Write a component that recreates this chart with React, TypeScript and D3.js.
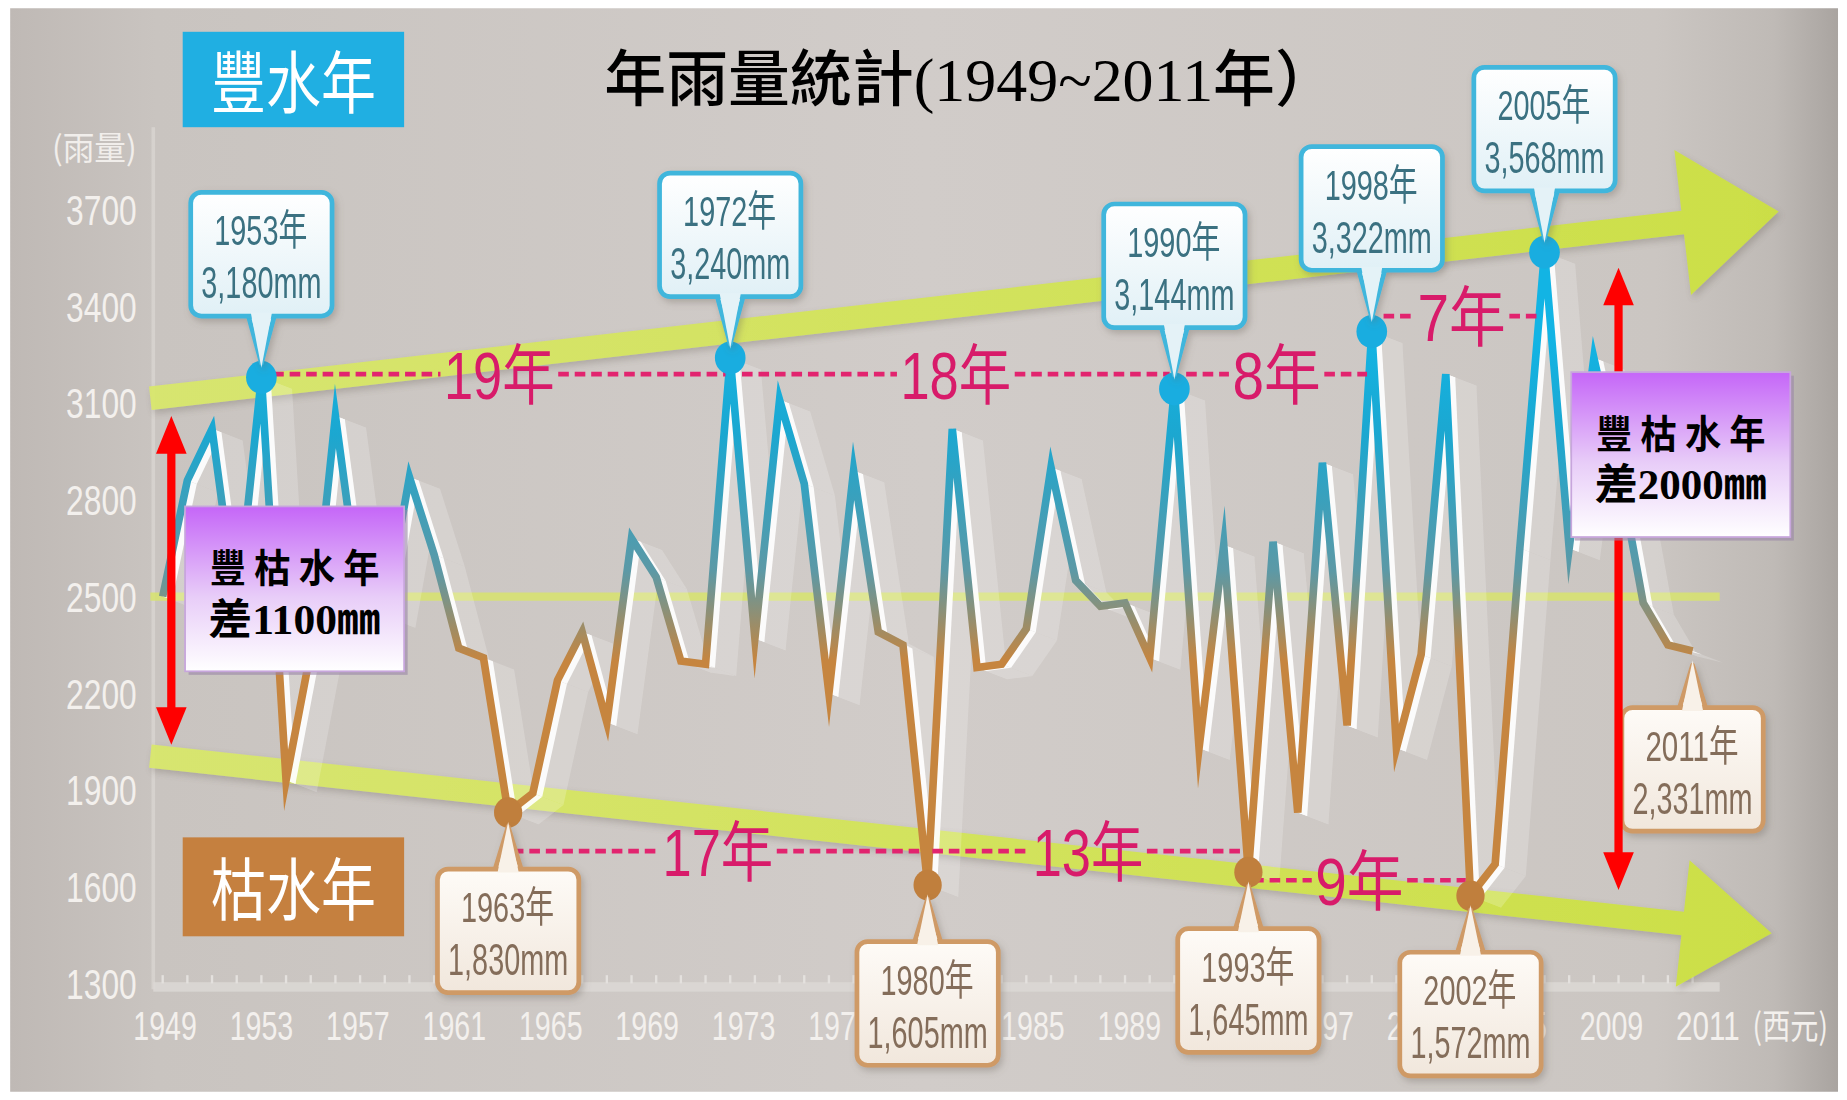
import * as d3 from "d3";

// annual rainfall, 1949..2011 (mm)
const START_YEAR = 1949;
const rainfall = [
  2500, 2860, 3020, 2450, 3180, 1930, 2330, 3060, 2490, 2440,
  2870, 2630, 2340, 2310, 1830, 1890, 2240, 2390, 2110, 2680,
  2560, 2300, 2290, 3240, 2370, 3110, 2850, 2200, 2890, 2390,
  2350, 1605, 3020, 2280, 2290, 2400, 2900, 2550, 2470, 2480,
  2310, 3144, 2030, 2660, 1645, 2670, 1830, 2915, 2100, 3322,
  2030, 2320, 3190, 1572, 1670, 2650, 3568, 2650, 3240, 2900,
  2480, 2350, 2331,
];
const years = rainfall.map((_, i) => START_YEAR + i);

const wetYears = [1953, 1972, 1990, 1998, 2005];
const dryYears = [1963, 1980, 1993, 2002];
const lastYear = 2011;

const yTicks = [3700, 3400, 3100, 2800, 2500, 2200, 1900, 1600, 1300];
const xTickLabels = ["1949", "1953", "1957", "1961", "1965", "1969", "1973", "1977", "1981",
  "1985", "1989", "1993", "1997", "2001", "2005", "2009", "2011"];

const wetGaps = [
  { from: 1953, to: 1972, label: "19", level: 3190 },
  { from: 1972, to: 1990, label: "18", level: 3190 },
  { from: 1990, to: 1998, label: "8", level: 3190 },
  { from: 1998, to: 2005, label: "7", level: 3370 },
];
const dryGaps = [
  { from: 1963, to: 1980, label: "17", level: 1710 },
  { from: 1980, to: 1993, label: "13", level: 1710 },
  { from: 1993, to: 2002, label: "9", level: 1620 },
];

// trend arrows: [year, mm] start and end of the shaft
const trendUp = [[1948.5, 3115], [2010.6, 3660]];
const trendDown = [[1948.5, 2005], [2010.6, 1486]];

const spanLeft = { year: 1949.35, lo: 2040, hi: 3060, text: "差1100㎜" };
const spanRight = { year: 2008.0, lo: 1590, hi: 3520, text: "差2000㎜" };

const W = 1568;
const H = 934;
const NUM_FONT = "'Liberation Sans Narrow','Liberation Sans','Noto Sans CJK TC',sans-serif";
const CJK_FONT = "'Noto Sans CJK TC','Noto Sans CJK SC',sans-serif";
const fmt = d3.format(",");
const valueOf = (yr: number) => rainfall[yr - START_YEAR];

function arrowPolygon(p0: number[], p1: number[], h: number, headH: number, headL: number) {
  const dx = p1[0] - p0[0];
  const dy = p1[1] - p0[1];
  const len = Math.hypot(dx, dy);
  const u = [dx / len, dy / len];
  const n = [-u[1], u[0]];
  const pts = [
    [p0[0] + n[0] * h, p0[1] + n[1] * h],
    [p1[0] + n[0] * h, p1[1] + n[1] * h],
    [p1[0] + n[0] * headH, p1[1] + n[1] * headH],
    [p1[0] + u[0] * headL, p1[1] + u[1] * headL],
    [p1[0] - n[0] * headH, p1[1] - n[1] * headH],
    [p1[0] - n[0] * h, p1[1] - n[1] * h],
    [p0[0] - n[0] * h, p0[1] - n[1] * h],
  ];
  return pts.map((p) => p.join(",")).join(" ");
}

// text laid out from its left edge with a fixed width
function Fit({ x, y, w, size, font, fill, weight, children }: { x: number; y: number; w: number; size: number; font: string; fill: string; weight?: number; children: any }) {
  return (
    <text x={x} y={y} fill={fill} fontFamily={font} fontSize={size} fontWeight={weight} textLength={w} lengthAdjust="spacingAndGlyphs">
      {children}
    </text>
  );
}

function Callout({ cx, anchorY, wet, year, value }: { cx: number; anchorY: number; wet: boolean; year: number; value: number }) {
  const bw = 120;
  const bh = 105;
  const top = wet ? anchorY - 52 - bh : anchorY + 48;
  const edge = wet ? top + bh : top;
  const tip = wet ? anchorY - 12 : anchorY + 12;
  const stroke = wet ? "#3fb6dc" : "#cf9a66";
  const fill = wet ? "url(#wetFill)" : "url(#dryFill)";
  const color = wet ? "#3a7181" : "#846d5a";
  const inner = wet ? "#e4f2f7" : "#f8f1e8";
  const tail = `${cx - 11},${edge} ${cx},${tip} ${cx + 11},${edge}`;
  const sgn = wet ? -1 : 1;
  return (
    <g filter="url(#soft)">
      <polygon points={tail} fill={inner} stroke={stroke} strokeWidth={4} strokeLinejoin="round" />
      <rect x={cx - bw / 2} y={top} width={bw} height={bh} rx={9} fill={fill} stroke={stroke} strokeWidth={4} />
      <polygon points={`${cx - 9},${edge + 3 * sgn} ${cx},${tip - 4 * sgn} ${cx + 9},${edge + 3 * sgn}`} fill={inner} />
      <Fit x={cx - 40} y={top + 45} w={79} size={36} font={NUM_FONT} fill={color}>{`${year}年`}</Fit>
      <Fit x={cx - 51} y={top + 90} w={102} size={37} font={NUM_FONT} fill={color}>{fmt(value)}mm</Fit>
    </g>
  );
}

function GapLabel({ x0, x1, yy, label }: { x0: number; x1: number; yy: number; label: string }) {
  const w = 19 * label.length + 56;
  const mid = (x0 + x1) / 2;
  const left = mid - w / 2;
  return (
    <g>
      <line x1={x0} x2={left - 3} y1={yy} y2={yy} stroke="#e2246f" strokeWidth={4} strokeDasharray="9 5" />
      <line x1={left + w + 3} x2={x1} y1={yy} y2={yy} stroke="#e2246f" strokeWidth={4} strokeDasharray="9 5" />
      <Fit x={left} y={yy + 21} w={w} size={56} font={NUM_FONT} fill="#d81b6a">{label + "年"}</Fit>
    </g>
  );
}

function SpanBox({ cx, cy, text }: { cx: number; cy: number; text: string }) {
  const bw = 186;
  const bh = 140;
  return (
    <g>
      <rect x={cx - bw / 2 + 3} y={cy - bh / 2 + 3} width={bw} height={bh} fill="#9a86a6" opacity={0.6} />
      <rect x={cx - bw / 2} y={cy - bh / 2} width={bw} height={bh} fill="url(#purple)" stroke="#c7a6dc" strokeWidth={1.5} />
      <Fit x={cx - 72} y={cy - 6} w={144} size={33} font={CJK_FONT} weight={700} fill="#000">豐 枯 水 年</Fit>
      <Fit x={cx - 73} y={cy + 38} w={146} size={36} font={`'Liberation Serif',${CJK_FONT}`} weight={700} fill="#000">{text}</Fit>
    </g>
  );
}

function RedArrow({ x, y0, y1 }: { x: number; y0: number; y1: number }) {
  const hw = 13;
  const hl = 32;
  return (
    <g>
      <line x1={x} x2={x} y1={y0 + hl - 2} y2={y1 - hl + 2} stroke="#ff0000" strokeWidth={7} />
      <polygon points={`${x - hw},${y0 + hl} ${x},${y0} ${x + hw},${y0 + hl}`} fill="#ff0000" />
      <polygon points={`${x - hw},${y1 - hl} ${x},${y1} ${x + hw},${y1 - hl}`} fill="#ff0000" />
    </g>
  );
}

export default function App() {
  const x = d3.scaleLinear().domain([1949, 2011]).range([138, 1437]);
  const y = d3.scaleLinear().domain([1300, 3700]).range([835, 178]);
  const xl = d3.scalePoint<string>().domain(xTickLabels).range([140, 1450]);

  const pts: [number, number][] = rainfall.map((v, i) => [x(years[i]), y(v)]);
  const linePath = d3.line()(pts) || "";
  const ex = 8;
  const ey = 3;
  const ribbon = pts.slice(1).map((p, i) => {
    const a = pts[i];
    return `M${a[0]},${a[1]}L${p[0]},${p[1]}L${p[0] + ex},${p[1] + ey}L${a[0] + ex},${a[1] + ey}Z`;
  });
  const ghost = pts.slice(1).map((p, i) => {
    const a = pts[i];
    return `M${a[0]},${a[1]}L${p[0]},${p[1]}L${p[0] + 26},${p[1] + 10}L${a[0] + 26},${a[1] + 10}Z`;
  });

  const toPx = (d: number[]) => [x(d[0]), y(d[1])];
  const axisText = "#f3f0ed";

  return (
    <svg width={1847} height={1100} viewBox={`0 0 ${W} ${H}`} style={{ position: "absolute", left: 0, top: 0, display: "block" }}>
      <defs>
        <linearGradient id="bg" x1="0" x2="1" y1="0" y2="0">
          <stop offset="0" stopColor="#bfb9b5" />
          <stop offset="0.08" stopColor="#c9c4c0" />
          <stop offset="0.5" stopColor="#d1ccc9" />
          <stop offset="0.9" stopColor="#cbc6c2" />
          <stop offset="0.965" stopColor="#bfbab6" />
          <stop offset="1" stopColor="#a9a4a0" />
        </linearGradient>
        <linearGradient id="lineGrad" gradientUnits="userSpaceOnUse" x1="0" x2="0" y1={y(3300)} y2={y(2300)}>
          <stop offset="0" stopColor="#12b4e4" />
          <stop offset="0.3" stopColor="#1ca7d0" />
          <stop offset="0.72" stopColor="#5c99a6" />
          <stop offset="1" stopColor="#c6853f" />
        </linearGradient>
        <linearGradient id="wetFill" x1="0" x2="0" y1="0" y2="1">
          <stop offset="0" stopColor="#ffffff" />
          <stop offset="1" stopColor="#e0f0f6" />
        </linearGradient>
        <linearGradient id="dryFill" x1="0" x2="0" y1="0" y2="1">
          <stop offset="0" stopColor="#fefbf7" />
          <stop offset="1" stopColor="#f1e7dc" />
        </linearGradient>
        <linearGradient id="purple" x1="0" x2="0" y1="0" y2="1">
          <stop offset="0" stopColor="#c566f8" />
          <stop offset="0.55" stopColor="#e8cdf8" />
          <stop offset="1" stopColor="#ffffff" />
        </linearGradient>
        <linearGradient id="green" x1="0" x2="1" y1="0" y2="0">
          <stop offset="0" stopColor="#d9e86a" />
          <stop offset="1" stopColor="#cde23e" />
        </linearGradient>
        <filter id="soft" x="-20%" y="-20%" width="140%" height="140%">
          <feDropShadow dx="2" dy="3" stdDeviation="3" floodColor="#6b625c" floodOpacity="0.35" />
        </filter>
      </defs>

      <rect x={0} y={0} width={W} height={H} fill="#ffffff" />
      <rect x={8.5} y={7} width={1552} height={920} fill="url(#bg)" />

      {/* axes */}
      <line x1={130} x2={130} y1={108} y2={840} stroke="#dcd8d4" strokeWidth={3} opacity={0.7} />
      <rect x={130} y={834} width={1330} height={8} fill="#dcd8d5" opacity={0.85} />
      {years.map((yr) => (
        <line key={yr} x1={x(yr)} x2={x(yr)} y1={828} y2={835} stroke="#e4e1de" strokeWidth={2} />
      ))}
      <Fit x={44} y={136} w={72} size={28} font={CJK_FONT} fill="#f1eeeb">(雨量)</Fit>
      {yTicks.map((t) => (
        <Fit key={t} x={56} y={y(t) + 13} w={60} size={36} font={NUM_FONT} fill={axisText}>{t}</Fit>
      ))}
      {xTickLabels.map((t) => (
        <Fit key={t} x={(xl(t) || 0) - 27} y={883} w={54} size={35} font={NUM_FONT} fill={axisText}>{t}</Fit>
      ))}
      <Fit x={1488} y={882} w={64} size={30} font={CJK_FONT} fill={axisText}>(西元)</Fit>

      {/* trend arrows and mean line */}
      <g filter="url(#soft)" opacity={0.92}>
        <polygon points={arrowPolygon(toPx(trendUp[0]), toPx(trendUp[1]), 10, 62, 82)} fill="url(#green)" />
        <polygon points={arrowPolygon(toPx(trendDown[0]), toPx(trendDown[1]), 10, 54, 76)} fill="url(#green)" />
      </g>
      <line x1={x(1948.5)} x2={x(2012.1)} y1={y(2500)} y2={y(2500)} stroke="#d8e46e" strokeWidth={7} opacity={0.85} />

      {/* rainfall line with 3d ribbon */}
      <g opacity={0.2}>
        {ghost.map((d, i) => (
          <path key={i} d={d} fill="#ffffff" />
        ))}
      </g>
      <g opacity={0.92}>
        {ribbon.map((d, i) => (
          <path key={i} d={d} fill="#ffffff" />
        ))}
      </g>
      <path d={linePath} fill="none" stroke="url(#lineGrad)" strokeWidth={6.5} strokeLinejoin="miter" strokeMiterlimit={12} />

      {/* gap annotations */}
      {wetGaps.map((g) => (
        <GapLabel key={g.label + g.from} x0={x(g.from) + 10} x1={x(g.to) - 4} yy={y(g.level)} label={g.label} />
      ))}
      {dryGaps.map((g) => (
        <GapLabel key={g.label + g.from} x0={x(g.from) + 4} x1={x(g.to) - 4} yy={y(g.level)} label={g.label} />
      ))}

      {/* highlighted points */}
      {wetYears.map((yr) => (
        <ellipse key={yr} cx={x(yr)} cy={y(valueOf(yr))} rx={13} ry={14} fill="#19ade0" />
      ))}
      {dryYears.map((yr) => (
        <ellipse key={yr} cx={x(yr)} cy={y(valueOf(yr))} rx={12} ry={13} fill="#c07f3d" />
      ))}

      {wetYears.map((yr) => (
        <Callout key={yr} cx={x(yr)} anchorY={y(valueOf(yr))} wet year={yr} value={valueOf(yr)} />
      ))}
      {dryYears.map((yr) => (
        <Callout key={yr} cx={x(yr)} anchorY={y(valueOf(yr))} wet={false} year={yr} value={valueOf(yr)} />
      ))}
      <Callout cx={x(lastYear)} anchorY={y(valueOf(lastYear))} wet={false} year={lastYear} value={valueOf(lastYear)} />

      {/* badges */}
      <rect x={155} y={27} width={188} height={81} fill="#20afe2" />
      <Fit x={179} y={92} w={140} size={58} font={CJK_FONT} fill="#ffffff">豐水年</Fit>
      <rect x={155} y={711} width={188} height={84} fill="#c5803f" />
      <Fit x={179} y={777} w={140} size={58} font={CJK_FONT} fill="#ffffff">枯水年</Fit>

      {/* title */}
      <Fit x={513} y={86} w={622} size={52} font={`'Liberation Serif',${CJK_FONT}`} weight={500} fill="#000">
        年雨量統計(1949~2011年）
      </Fit>

      {/* range arrows and boxes */}
      <RedArrow x={x(spanLeft.year)} y0={y(spanLeft.hi)} y1={y(spanLeft.lo)} />
      <RedArrow x={x(spanRight.year)} y0={y(spanRight.hi)} y1={y(spanRight.lo)} />
      <SpanBox cx={250} cy={500} text={spanLeft.text} />
      <SpanBox cx={1427} cy={386} text={spanRight.text} />
    </svg>
  );
}
